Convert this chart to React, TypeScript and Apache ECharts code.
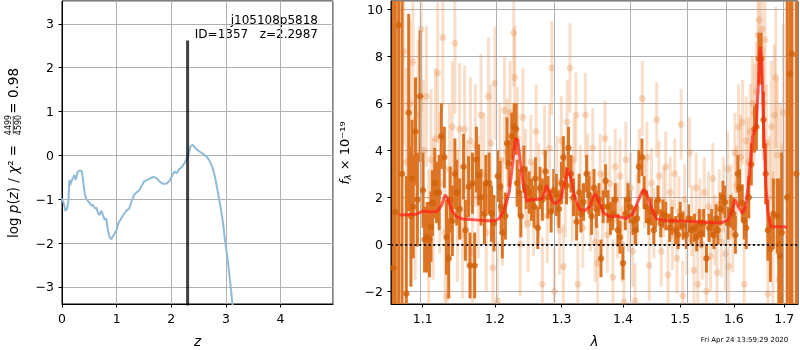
import React, { useEffect, useRef } from 'react';
import * as echarts from 'echarts';

const FONT = 'DejaVu Sans';

// ---- left panel: log p(z) ----
const Z_GRID = [0, 0.03, 0.06, 0.09, 0.12, 0.134, 0.15, 0.17, 0.2, 0.23, 0.25, 0.275, 0.29, 0.32, 0.36, 0.385, 0.415, 0.446, 0.48, 0.51, 0.54, 0.57, 0.6, 0.63, 0.66, 0.69, 0.72, 0.75, 0.78, 0.81, 0.84, 0.87, 0.9, 0.95, 1.0, 1.03, 1.07, 1.12, 1.18, 1.23, 1.27, 1.32, 1.36, 1.41, 1.45, 1.5, 1.58, 1.67, 1.73, 1.79, 1.85, 1.91, 1.97, 2.02, 2.06, 2.1, 2.14, 2.19, 2.24, 2.28, 2.32, 2.35, 2.39, 2.43, 2.49, 2.55, 2.61, 2.66, 2.71, 2.76, 2.8, 2.84, 2.89, 2.94, 2.99, 3.04, 3.08, 3.12, 3.16];
const LOG_PZ = [-0.98, -1.09, -1.26, -1.23, -1.02, -0.56, -0.68, -0.6, -0.52, -0.45, -0.56, -0.45, -0.37, -0.35, -0.35, -0.56, -0.87, -1.0, -1.05, -1.09, -1.15, -1.13, -1.21, -1.19, -1.32, -1.36, -1.26, -1.36, -1.47, -1.44, -1.7, -1.87, -1.91, -1.81, -1.7, -1.55, -1.47, -1.36, -1.26, -1.21, -1.06, -0.9, -0.85, -0.8, -0.71, -0.6, -0.55, -0.49, -0.52, -0.6, -0.65, -0.65, -0.58, -0.45, -0.37, -0.41, -0.32, -0.27, -0.18, -0.09, 0.05, 0.2, 0.24, 0.18, 0.11, 0.06, 0.01, -0.05, -0.14, -0.3, -0.49, -0.75, -1.09, -1.47, -2.0, -2.45, -2.91, -3.39, -3.7];
const BEST_Z = 2.2987;
const BEST_Z_TOP = 2.62;
const LEFT_X_RANGE = [0, 4.96];
const LEFT_Y_RANGE = [-3.39, 3.52];

// ---- right panel: spectrum ----
const X_TICKS_LAMBDA = [1.1, 1.2, 1.3, 1.4, 1.5, 1.6, 1.7];
const RIGHT_X_RANGE = [1.0588, 1.7285];
const RIGHT_Y_RANGE = [-2.54, 10.35];

const MODEL_WAVE = [1.0693, 1.0916, 1.101, 1.108, 1.1195, 1.1256, 1.13, 1.1335, 1.139, 1.145, 1.154, 1.1707, 1.1893, 1.2, 1.206, 1.2135, 1.221, 1.226, 1.23, 1.2335, 1.2375, 1.242, 1.247, 1.2535, 1.2635, 1.271, 1.277, 1.281, 1.286, 1.291, 1.2985, 1.3037, 1.31, 1.3155, 1.3214, 1.329, 1.337, 1.345, 1.351, 1.3545, 1.36, 1.368, 1.3786, 1.392, 1.406, 1.4173, 1.4289, 1.4347, 1.4405, 1.449, 1.4578, 1.4751, 1.4983, 1.5296, 1.561, 1.577, 1.589, 1.597, 1.602, 1.6086, 1.6166, 1.623, 1.6298, 1.6364, 1.6437, 1.648, 1.6517, 1.655, 1.6583, 1.663, 1.667, 1.673, 1.688, 1.706];
const MODEL_FLUX = [1.25, 1.28, 1.42, 1.38, 1.4, 1.67, 2.1, 1.96, 1.46, 1.18, 1.08, 1.04, 1.0, 1.0, 1.1, 1.46, 2.24, 3.45, 4.5, 4.44, 3.45, 2.45, 1.82, 1.91, 1.91, 1.96, 2.52, 2.24, 1.82, 1.72, 1.91, 2.45, 3.23, 2.74, 1.96, 1.49, 1.43, 1.6, 2.03, 2.14, 1.82, 1.32, 1.18, 1.18, 1.1, 1.32, 2.03, 2.34, 2.17, 1.53, 1.08, 1.0, 1.0, 0.96, 0.92, 0.92, 1.04, 1.46, 1.91, 1.6, 1.32, 1.6, 2.88, 4.58, 5.0, 6.85, 8.4, 7.56, 5.0, 2.45, 1.32, 0.75, 0.75, 0.72];

// [wavelength (um), flux, error] of the main spectrum
const MAIN_SPEC = [
  [1.0617, -1.0, 20], [1.0643, 1.37, 20], [1.0686, 9.33, 20], [1.073, 3.0, 20],
  [1.0785, -2.1, 5.0], [1.0816, 5.6, 4.2], [1.0845, 1.2, 3.0], [1.086, 2.8, 2.5], [1.0875, 1.6, 2.2], [1.0905, 4.8, 2.3], [1.093, 1.9, 2.0], [1.0965, 6.3, 2.8],
  [1.1004, 2.3, 1.6], [1.1025, 0.2, 1.4], [1.106, 0.3, 1.5], [1.109, 0.2, 1.6], [1.111, 0.75, 1.5], [1.113, 1.75, 1.4], [1.116, 2.6, 1.5], [1.1185, 2.2, 1.3], [1.122, 2.2, 1.6], [1.125, 4.6, 1.4], [1.129, 3.7, 1.3], [1.132, 0.3, 1.6], [1.135, -0.6, 1.7], [1.137, 1.9, 1.4], [1.14, 1.0, 1.5], [1.1435, 3.0, 1.5], [1.146, 2.2, 1.4], [1.15, 1.5, 1.3], [1.1555, 3.3, 1.4], [1.158, 0.6, 1.3], [1.1625, 2.45, 1.3], [1.1645, -0.9, 1.4], [1.168, 2.6, 1.3], [1.171, -0.9, 1.4], [1.1735, 3.6, 1.4], [1.1765, 2.95, 1.3], [1.18, 2.0, 1.2], [1.185, 1.3, 1.3], [1.187, 2.6, 1.2], [1.1915, 2.6, 1.3], [1.195, 1.3, 1.2], [1.1985, 0.9, 1.2],
  [1.204, 2.9, 1.1], [1.2076, 2.45, 1.1], [1.209, 1.6, 1.0], [1.2107, 0.5, 1.1], [1.2152, 1.2, 1.0], [1.2175, 4.3, 1.1], [1.2205, 3.45, 1.0], [1.2245, 4.6, 1.0], [1.228, 5.0, 1.0], [1.231, 4.9, 1.1], [1.2325, 2.6, 1.0], [1.2355, 2.2, 1.0], [1.238, 1.2, 0.9], [1.2425, 3.2, 1.0], [1.246, 2.4, 0.9], [1.2505, 2.2, 0.9], [1.254, 1.9, 0.9], [1.258, 1.6, 0.9], [1.26, 2.8, 0.9], [1.2635, 0.7, 0.9], [1.267, 2.4, 0.9], [1.2705, 1.9, 0.9], [1.275, 3.1, 0.9], [1.279, 2.0, 0.9], [1.284, 1.4, 0.9], [1.288, 2.3, 0.9], [1.292, 2.1, 0.9], [1.296, 1.5, 0.8], [1.3, 2.6, 0.9],
  [1.303, 3.7, 0.9], [1.308, 2.5, 0.8], [1.311, 4.1, 0.9], [1.315, 3.0, 0.8], [1.319, 2.0, 0.8], [1.324, 0.96, 0.8], [1.328, 2.2, 0.8], [1.331, 1.3, 0.8], [1.335, 1.8, 0.8], [1.34, 3.0, 0.8], [1.344, 2.1, 0.8], [1.348, 1.2, 0.8], [1.352, 2.4, 0.8], [1.356, 1.5, 0.8], [1.36, 1.9, 0.7], [1.3634, -0.6, 0.8], [1.367, 1.6, 0.7],
  [1.371, 2.7, 0.7], [1.375, 1.6, 0.7], [1.379, 1.1, 0.7], [1.383, 1.3, 0.7], [1.387, 1.9, 0.7], [1.3916, 0.6, 0.7], [1.395, 0.3, 0.7], [1.4, -0.8, 0.7], [1.404, 1.3, 0.7], [1.4084, 1.9, 0.7], [1.412, 1.6, 0.7], [1.417, 1.0, 0.6], [1.421, 0.6, 0.6], [1.424, 1.1, 0.6], [1.427, 3.3, 0.7], [1.4324, 3.7, 0.8], [1.436, 2.2, 0.7], [1.44, 1.6, 0.7], [1.444, 1.0, 0.6], [1.4487, 1.4, 0.6], [1.453, 0.6, 0.6], [1.456, 1.3, 0.6], [1.4603, 1.9, 0.6], [1.465, 0.9, 0.6], [1.469, 1.3, 0.6], [1.474, 1.2, 0.6], [1.481, 0.7, 0.6], [1.485, 1.0, 0.6], [1.4917, 0.6, 0.6], [1.496, 0.4, 0.6], [1.5, 1.2, 0.6], [1.505, 0.8, 0.6], [1.511, 0.4, 0.6], [1.515, 1.1, 0.6], [1.52, 0.6, 0.6], [1.526, 0.7, 0.6], [1.53, 0.3, 0.6], [1.535, 0.9, 0.6],
  [1.5384, 0.47, 0.6], [1.543, 0.9, 0.6], [1.548, -0.6, 0.6], [1.553, 0.7, 0.6], [1.5577, 0.9, 0.6], [1.562, 0.4, 0.6], [1.566, 1.1, 0.6], [1.5695, 0.6, 0.6], [1.574, 1.5, 0.7], [1.579, 2.0, 0.7], [1.583, 1.8, 0.7], [1.5885, 0.9, 0.7], [1.594, 1.4, 0.7], [1.599, 1.3, 0.7], [1.603, 0.4, 0.8], [1.6077, 3.0, 0.8], [1.611, 2.4, 0.8], [1.6163, 1.75, 0.8], [1.62, 1.0, 0.8], [1.624, 0.7, 0.9], [1.629, 2.0, 0.9], [1.634, 3.4, 0.9], [1.6403, 4.9, 1.0], [1.644, 5.0, 1.0], [1.649, 7.9, 1.1], [1.6536, 7.9, 1.1], [1.6582, 5.3, 1.2], [1.6625, 3.0, 1.3], [1.6669, 0.6, 1.3], [1.672, -0.2, 1.4], [1.678, 1.3, 1.5], [1.6858, 1.2, 1.6], [1.689, 0.0, 2.8], [1.6914, -0.5, 3.2], [1.695, 0.5, 3.4],
  [1.7061, 2.0, 20], [1.7117, 7.25, 20], [1.716, 8.1, 20], [1.725, 3.0, 20],
];

// [wavelength (um), flux, error] of the other (faint) spectra
const OTHER_SPEC = [
  [1.075, 8.2, 4], [1.079, 3.5, 4], [1.083, 6.0, 3.5], [1.087, 7.75, 3.5], [1.09, 2.0, 3.5], [1.094, 5.5, 3.2], [1.098, 9.15, 3.5], [1.101, 4.0, 3], [1.105, 6.3, 3], [1.108, 0.2, 3], [1.111, 3.6, 3], [1.114, 1.5, 3], [1.117, 4.5, 3], [1.12, 7.3, 3], [1.123, 2.6, 3], [1.127, 8.8, 3], [1.13, 0.5, 3], [1.133, -2.2, 2.8], [1.136, 3.2, 2.8], [1.14, 5.0, 2.8], [1.1435, 8.55, 3], [1.147, 1.2, 2.8], [1.15, 4.9, 2.8], [1.154, 0.4, 2.7], [1.157, 4.9, 2.7], [1.161, 1.7, 2.7], [1.165, 4.4, 2.7], [1.168, -0.3, 2.6], [1.172, 4.2, 2.6], [1.176, 2.0, 2.6], [1.18, 5.5, 2.6], [1.184, 3.0, 2.6], [1.1875, 0.5, 2.5], [1.1905, 6.3, 2.5], [1.194, 4.3, 2.5], [1.197, -1.0, 2.4],
  [1.2, 6.85, 2.4], [1.2035, -2.4, 2.5], [1.207, 3.6, 2.4], [1.211, 1.4, 2.3], [1.214, 5.7, 2.3], [1.218, 3.9, 2.3], [1.222, 5.6, 2.2], [1.2275, 9.0, 2.3], [1.229, 7.1, 2.2], [1.233, 4.5, 2.2], [1.237, 0.0, 2.2], [1.241, 5.4, 2.1], [1.245, 2.8, 2.1], [1.249, 0.9, 2.1], [1.253, 3.5, 2.0], [1.257, 1.5, 2.0], [1.261, 4.8, 2.0], [1.265, 2.3, 2.0], [1.2705, -1.7, 2.0], [1.274, 3.9, 2.0], [1.278, 1.2, 2.0], [1.2815, 4.1, 1.9], [1.285, 7.5, 2.0], [1.289, -2.0, 1.9], [1.293, 2.7, 1.9], [1.297, 0.6, 1.9],
  [1.3, 4.4, 1.9], [1.303, -0.95, 1.8], [1.306, 2.1, 1.8], [1.309, 5.2, 1.8], [1.3135, 7.5, 1.9], [1.317, 1.9, 1.8], [1.32, 3.6, 1.8], [1.323, 5.5, 1.8], [1.326, -1.7, 1.8], [1.33, 2.4, 1.8], [1.334, 0.7, 1.7], [1.338, 5.5, 1.8], [1.342, 3.0, 1.7], [1.346, 1.4, 1.7], [1.35, 4.1, 1.7], [1.354, 0.1, 1.7], [1.358, -0.8, 1.7], [1.362, 3.0, 1.7], [1.366, 1.5, 1.6], [1.37, 4.5, 1.6], [1.374, 0.4, 1.6], [1.378, 2.6, 1.6], [1.383, -1.4, 1.6], [1.387, 3.3, 1.6], [1.391, 1.0, 1.6], [1.395, 2.9, 1.6], [1.3985, 0.0, 1.6],
  [1.4015, -2.45, 1.6], [1.405, 3.6, 1.6], [1.409, 1.2, 1.5], [1.413, 2.4, 1.5], [1.4165, -0.3, 1.5], [1.4205, -2.4, 1.6], [1.424, 1.5, 1.5], [1.428, 3.4, 1.5], [1.433, 6.2, 1.6], [1.437, 2.2, 1.5], [1.441, 3.7, 1.5], [1.445, -0.9, 1.5], [1.449, 2.6, 1.5], [1.453, 0.9, 1.5], [1.458, 5.3, 1.6], [1.462, 2.9, 1.5], [1.466, -0.3, 1.5], [1.47, 1.8, 1.5], [1.474, 3.3, 1.5], [1.478, -1.3, 1.5], [1.482, 2.2, 1.5], [1.486, 0.4, 1.5], [1.49, 3.0, 1.5], [1.494, -0.6, 1.5], [1.4975, 1.4, 1.5],
  [1.5015, 5.1, 1.5], [1.5045, -2.2, 1.5], [1.508, 1.9, 1.5], [1.512, 0.2, 1.5], [1.517, 3.9, 1.5], [1.521, 1.0, 1.5], [1.525, -1.1, 1.5], [1.529, 2.4, 1.5], [1.532, -1.7, 1.5], [1.536, 1.3, 1.5], [1.54, 0.0, 1.5], [1.544, 2.2, 1.5], [1.548, -2.0, 1.5], [1.552, 1.6, 1.5], [1.556, -0.5, 1.5], [1.56, 2.8, 1.5], [1.564, 0.6, 1.5], [1.568, -1.2, 1.5], [1.572, 1.7, 1.5], [1.576, 0.1, 1.5], [1.58, 2.1, 1.6], [1.584, -0.4, 1.6], [1.588, 3.2, 1.6], [1.59, -0.95, 1.6], [1.594, 1.8, 1.6], [1.598, 0.5, 1.7],
  [1.602, 3.9, 1.7], [1.605, 2.5, 1.7], [1.609, 5.0, 1.8], [1.613, 3.7, 1.8], [1.617, 5.2, 1.8], [1.62, -1.7, 1.8], [1.624, 4.4, 1.9], [1.628, 3.5, 1.9], [1.632, 4.8, 2.0], [1.636, 6.0, 2.0], [1.64, 5.6, 2.1], [1.644, 6.5, 2.1], [1.647, 8.9, 2.2], [1.65, 9.55, 2.3], [1.655, 9.15, 2.3], [1.658, 6.0, 2.4], [1.661, 8.7, 2.4], [1.664, 4.3, 2.5], [1.667, -2.1, 2.6], [1.67, 2.0, 2.6], [1.674, 5.0, 2.8], [1.677, 0.3, 2.8], [1.68, 5.5, 3], [1.683, 7.1, 3], [1.686, 3.8, 3.2], [1.689, -1.5, 3.2], [1.692, 2.5, 3.5], [1.695, 0.8, 3.5], [1.698, 5.6, 3.8],
];

const minusFmt = (v: number) => (v < 0 ? '\u2212' + String(-v) : String(v));
const lg = (v: number) => Math.log10(v);

const COLORS = {
  pz: '#8fbbd9',
  bestZ: 'rgba(0,0,0,0.75)',
  grid: '#b0b0b0',
  mainBar: '#dd7424',
  mainDot: '#d2610a',
  otherBar: 'rgba(232,132,60,0.27)',
  otherDot: 'rgba(226,122,44,0.33)',
  model: 'rgba(255,32,22,0.72)',
};

function errorBarSeries(data: number[][], color: string, z: number) {
  return {
    type: 'custom',
    xAxisIndex: 1,
    yAxisIndex: 1,
    clip: true,
    z,
    silent: true,
    data: data.map((d) => [lg(d[0]), d[1], d[2]]),
    encode: { x: 0, y: 1 },
    renderItem: (_params: any, api: any) => {
      const x = api.value(0);
      const y = api.value(1);
      const e = api.value(2);
      const p1 = api.coord([x, y - e]);
      const p2 = api.coord([x, y + e]);
      return {
        type: 'line',
        shape: { x1: p1[0], y1: p1[1], x2: p2[0], y2: p2[1] },
        style: { stroke: color, lineWidth: 3 },
      };
    },
  };
}

export default function App() {
  const ref = useRef<HTMLDivElement>(null);
  useEffect(() => {
    if (!ref.current) return;
    const chart = echarts.init(ref.current, undefined, { renderer: 'svg' });
    const axisLineStyle = { show: true, onZero: false, lineStyle: { color: '#000', width: 1 } };
    const tickStyle = { show: true, length: 3.5, lineStyle: { color: '#000', width: 1 } };
    const labelStyle = { color: '#000', fontSize: 12.5, fontFamily: FONT, margin: 8 };
    const splitStyle = { show: true, lineStyle: { color: COLORS.grid, width: 1 } };
    const xTicks = X_TICKS_LAMBDA.map(lg);

    const option: any = {
      animation: false,
      grid: [
        { left: 62, top: 1, width: 271, height: 303, show: true, borderColor: '#000', borderWidth: 1, backgroundColor: 'transparent' },
        { left: 391, top: 1, width: 407, height: 303, show: true, borderColor: '#000', borderWidth: 1, backgroundColor: 'transparent' },
      ],
      xAxis: [
        {
          gridIndex: 0, type: 'value', min: LEFT_X_RANGE[0], max: LEFT_X_RANGE[1],
          splitNumber: 5, minInterval: 1, maxInterval: 1,
          axisLine: axisLineStyle, axisTick: tickStyle,
          axisLabel: { ...labelStyle, showMaxLabel: false, formatter: minusFmt },
          splitLine: splitStyle,
        },
        {
          gridIndex: 1, type: 'value', min: lg(RIGHT_X_RANGE[0]), max: lg(RIGHT_X_RANGE[1]),
          axisLine: axisLineStyle,
          axisTick: { ...tickStyle, customValues: xTicks },
          axisLabel: { ...labelStyle, customValues: xTicks, formatter: (v: number) => Math.pow(10, v).toFixed(1) },
          splitLine: { show: false },
        },
      ],
      yAxis: [
        {
          gridIndex: 0, type: 'value', min: LEFT_Y_RANGE[0], max: LEFT_Y_RANGE[1],
          splitNumber: 6, minInterval: 1, maxInterval: 1,
          axisLine: axisLineStyle, axisTick: tickStyle,
          axisLabel: { ...labelStyle, showMinLabel: false, showMaxLabel: false, formatter: minusFmt },
          splitLine: splitStyle,
        },
        {
          gridIndex: 1, type: 'value', min: RIGHT_Y_RANGE[0], max: RIGHT_Y_RANGE[1],
          splitNumber: 6, minInterval: 2, maxInterval: 2,
          axisLine: axisLineStyle, axisTick: tickStyle,
          axisLabel: { ...labelStyle, showMinLabel: false, showMaxLabel: false, formatter: minusFmt },
          splitLine: splitStyle,
        },
      ],
      series: [
        {
          type: 'line', xAxisIndex: 0, yAxisIndex: 0, z: 3, silent: true,
          data: Z_GRID.map((z, i) => [z, LOG_PZ[i]]),
          showSymbol: false, symbol: 'none', clip: true,
          lineStyle: { color: COLORS.pz, width: 2 },
        },
        {
          type: 'line', xAxisIndex: 0, yAxisIndex: 0, z: 4, silent: true,
          data: [[BEST_Z, LEFT_Y_RANGE[0] - 1], [BEST_Z, BEST_Z_TOP]],
          showSymbol: false, symbol: 'none', clip: true,
          lineStyle: { color: COLORS.bestZ, width: 3 },
        },
        {
          type: 'line', xAxisIndex: 1, yAxisIndex: 1, z: 1, silent: true, data: [],
          markLine: {
            silent: true, symbol: ['none', 'none'], label: { show: false },
            lineStyle: { color: COLORS.grid, width: 1, type: 'solid' },
            emphasis: { disabled: true },
            data: xTicks.map((v) => ({ xAxis: v })),
          },
        },
        errorBarSeries(OTHER_SPEC, COLORS.otherBar, 2),
        {
          type: 'scatter', xAxisIndex: 1, yAxisIndex: 1, z: 3, silent: true, clip: true,
          data: OTHER_SPEC.map((d) => [lg(d[0]), d[1]]),
          symbol: 'circle', symbolSize: 7,
          itemStyle: { color: COLORS.otherDot },
        },
        errorBarSeries(MAIN_SPEC, COLORS.mainBar, 4),
        {
          type: 'scatter', xAxisIndex: 1, yAxisIndex: 1, z: 5, silent: true, clip: true,
          data: MAIN_SPEC.map((d) => [lg(d[0]), d[1]]),
          symbol: 'circle', symbolSize: 6.5,
          itemStyle: { color: COLORS.mainDot },
        },
        {
          type: 'line', xAxisIndex: 1, yAxisIndex: 1, z: 6, silent: true,
          data: MODEL_WAVE.map((w, i) => [lg(w), MODEL_FLUX[i]]),
          showSymbol: false, symbol: 'none', clip: true,
          lineStyle: { color: COLORS.model, width: 3 },
          markLine: {
            silent: true, symbol: ['none', 'none'], label: { show: false },
            lineStyle: { color: '#111', width: 2, type: [2, 2.7] },
            data: [{ yAxis: 0 }],
          },
        },
      ],
      graphic: [
        {
          type: 'text', x: 318, y: 20,
          style: { text: 'j105108p5818', fontSize: 12, fontFamily: FONT, fill: '#000', align: 'right', verticalAlign: 'middle', textAlign: 'right', textVerticalAlign: 'middle' },
        },
        {
          type: 'text', x: 318, y: 34,
          style: { text: 'ID=1357   z=2.2987', fontSize: 12, fontFamily: FONT, fill: '#000', align: 'right', verticalAlign: 'middle', textAlign: 'right', textVerticalAlign: 'middle' },
        },
        {
          type: 'text', x: 197.5, y: 341,
          style: { text: 'z', fontSize: 13.5, fontStyle: 'italic', fontFamily: FONT, fill: '#000', align: 'center', verticalAlign: 'middle', textAlign: 'center', textVerticalAlign: 'middle' },
        },
        {
          type: 'text', x: 594.5, y: 341,
          style: { text: 'λ', fontSize: 13.5, fontStyle: 'italic', fontFamily: FONT, fill: '#000', align: 'center', verticalAlign: 'middle', textAlign: 'center', textVerticalAlign: 'middle' },
        },
        {
          type: 'group', x: 13, y: 238, rotation: Math.PI / 2,
          children: [
            {
              type: 'text', x: 0, y: 0,
              style: {
                text: '{n|log }{i|p}{n|(}{i|z}{n|) / }{i|χ}{n|² =}',
                rich: {
                  n: { fontSize: 13.5, fontFamily: FONT, fill: '#000' },
                  i: { fontSize: 13.5, fontFamily: FONT, fontStyle: 'italic', fill: '#000' },
                },
                align: 'left', verticalAlign: 'middle', textAlign: 'left', textVerticalAlign: 'middle',
              },
            },
            {
              type: 'text', x: 113, y: -4.5,
              style: { text: '4499', fontSize: 8, fontFamily: FONT, fill: '#000', align: 'center', verticalAlign: 'middle', textAlign: 'center', textVerticalAlign: 'middle' },
            },
            {
              type: 'text', x: 113, y: 5,
              style: { text: '4590', fontSize: 8, fontFamily: FONT, fill: '#000', align: 'center', verticalAlign: 'middle', textAlign: 'center', textVerticalAlign: 'middle' },
            },
            { type: 'line', shape: { x1: 104, y1: 0.3, x2: 122, y2: 0.3 }, style: { stroke: '#000', lineWidth: 0.7 } },
            {
              type: 'text', x: 170, y: 0,
              style: { text: '= 0.98', fontSize: 13.5, fontFamily: FONT, fill: '#000', align: 'right', verticalAlign: 'middle', textAlign: 'right', textVerticalAlign: 'middle' },
            },
          ],
        },
        {
          type: 'text', x: 344, y: 153, rotation: Math.PI / 2,
          style: {
            text: '{i|f}{s|λ}{n| × 10⁻¹⁹}',
            rich: {
              n: { fontSize: 13, fontFamily: FONT, fill: '#000' },
              i: { fontSize: 13, fontFamily: FONT, fontStyle: 'italic', fill: '#000' },
              s: { fontSize: 9.5, fontFamily: FONT, fontStyle: 'italic', fill: '#000', padding: [7, 0, 0, 0] },
            },
            align: 'center', verticalAlign: 'middle', textAlign: 'center', textVerticalAlign: 'middle',
          },
        },
        {
          type: 'text', x: 744.5, y: 340,
          style: { text: 'Fri Apr 24 13:59:29 2020', fontSize: 7, fontFamily: FONT, fill: '#000', align: 'center', verticalAlign: 'middle', textAlign: 'center', textVerticalAlign: 'middle' },
        },
      ],
    };
    chart.setOption(option);
    return () => chart.dispose();
  }, []);
  return <div ref={ref} style={{ position: 'fixed', left: 0, top: 0, width: 800, height: 350 }} />;
}
